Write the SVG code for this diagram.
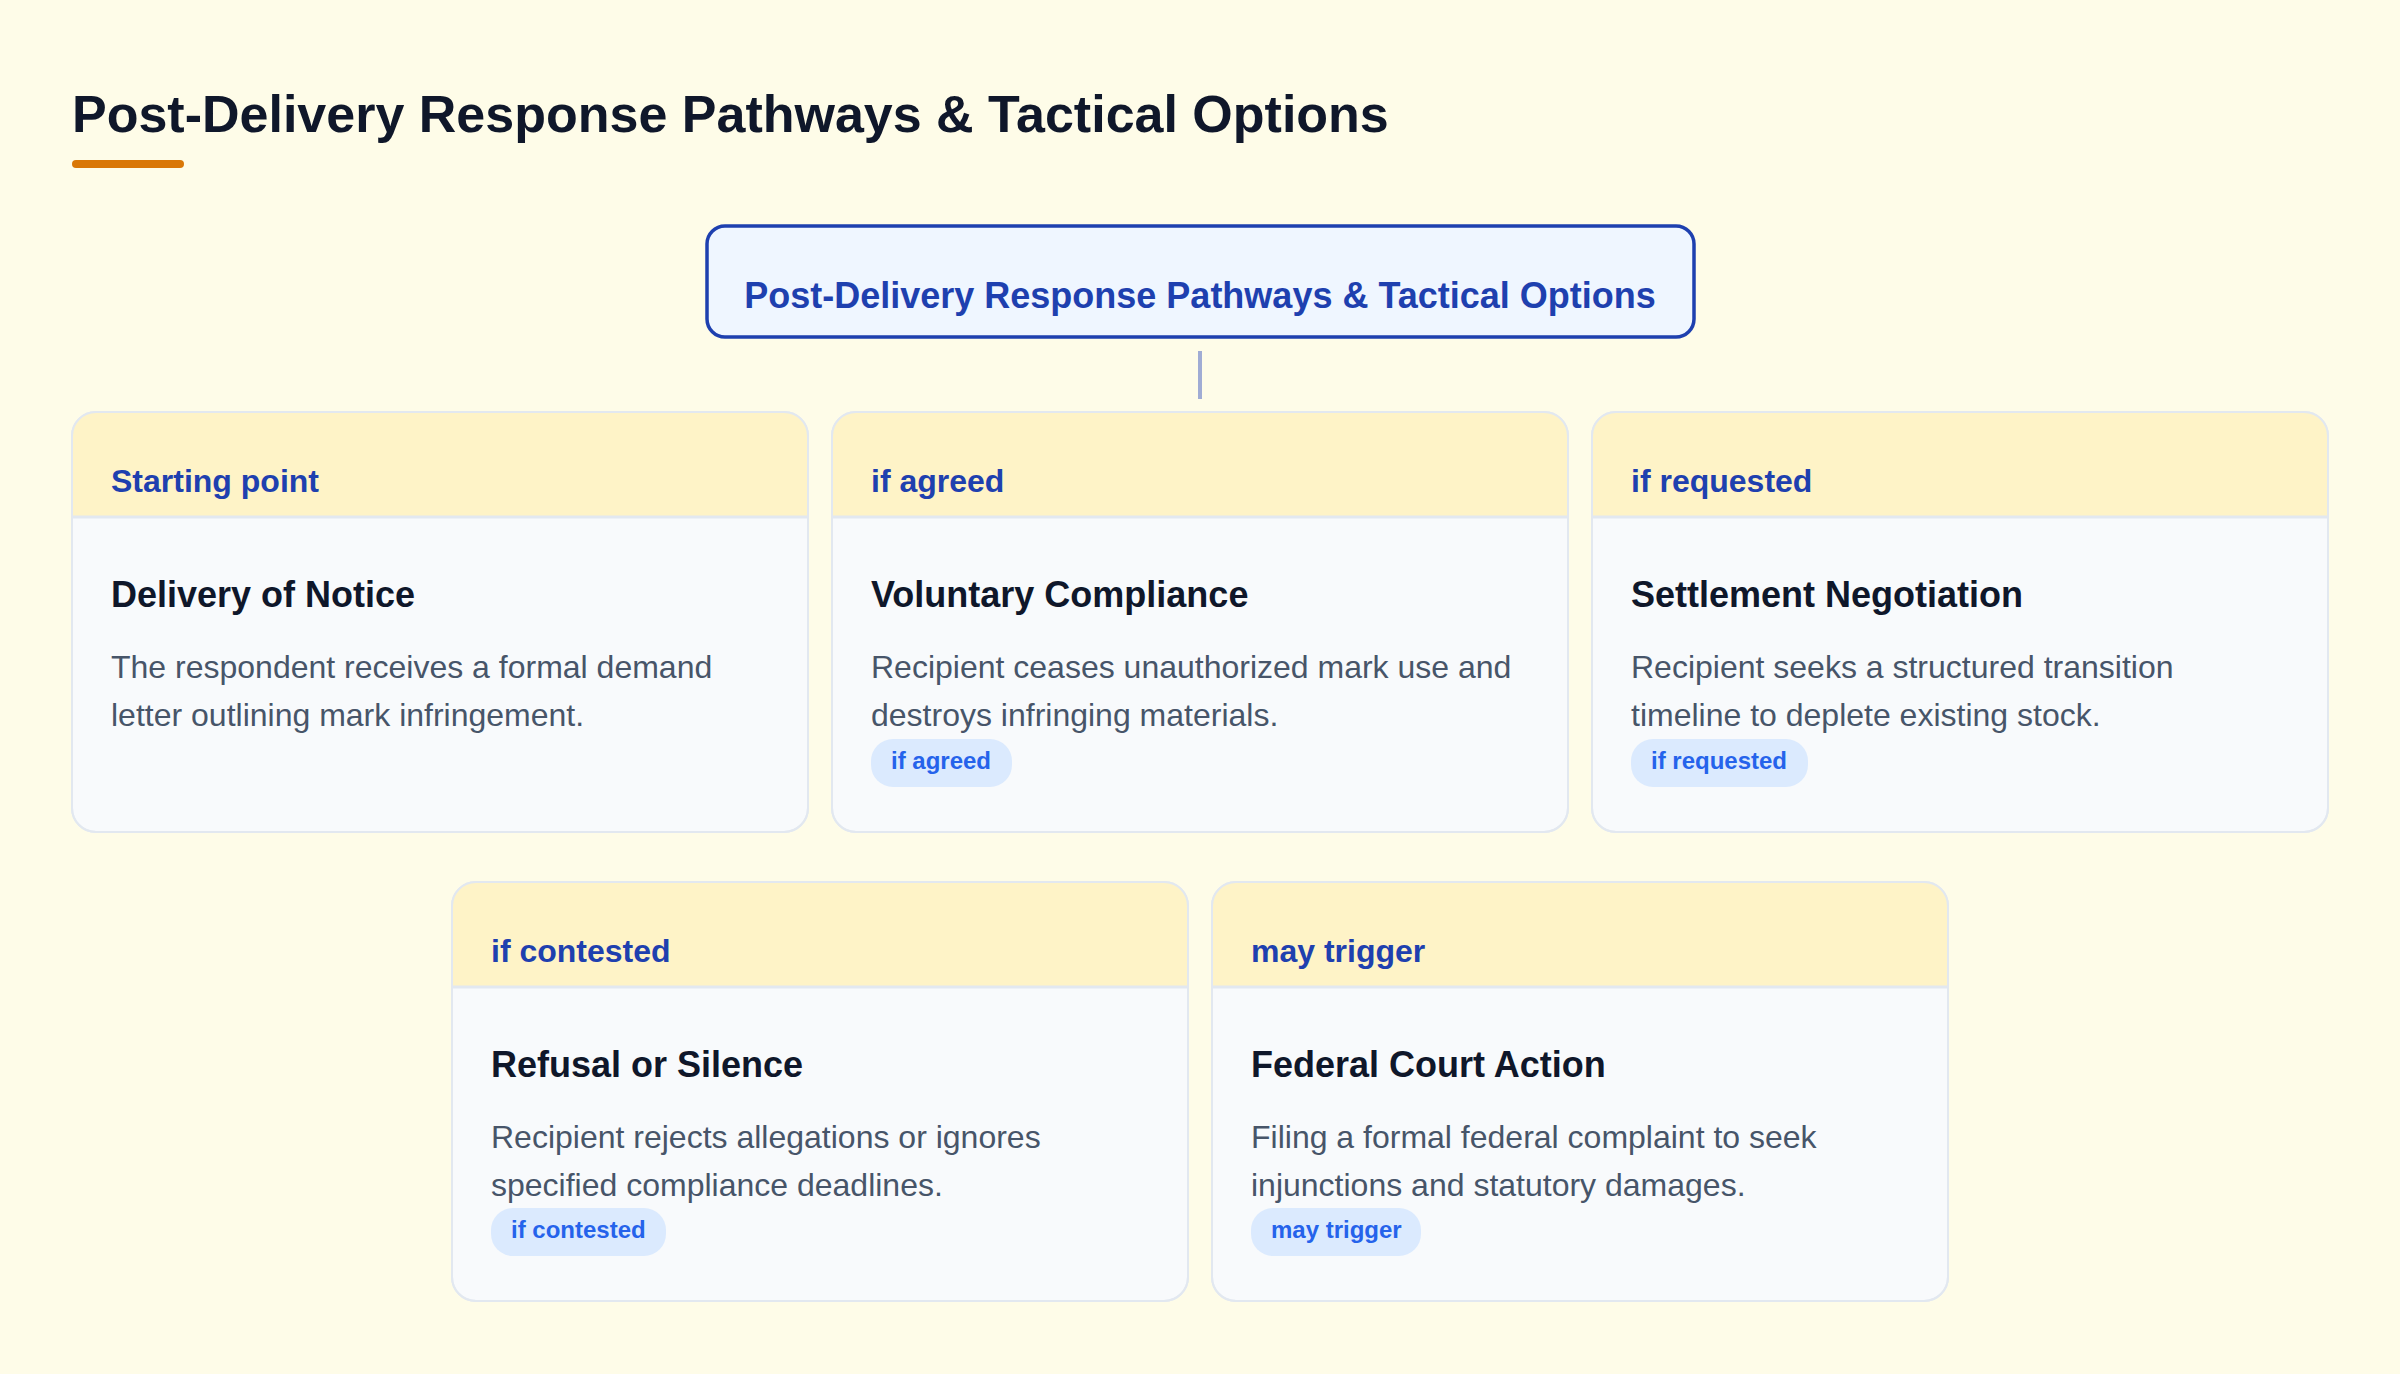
<svg xmlns="http://www.w3.org/2000/svg" width="2400" height="1374" viewBox="0 0 2400 1374">
<defs>
<style>
.bg{fill:#fefce8}
.h1{font-family:"Liberation Sans",Arial,sans-serif;font-weight:700;font-size:52px;fill:#0f172a}
.root{fill:#eff6ff;stroke:#1e40af;stroke-width:3.5}
.roottxt{font-family:"Liberation Sans",Arial,sans-serif;font-weight:700;font-size:36px;fill:#1e40af}
.card{fill:#f8fafc;stroke:#e2e8f0;stroke-width:2}
.cardb{fill:none;stroke:#e2e8f0;stroke-width:2}
.head{fill:#fef3c7}
.sep{stroke:#e2e8f0;stroke-width:3}
.htxt{font-family:"Liberation Sans",Arial,sans-serif;font-weight:700;font-size:32px;fill:#1e40af}
.ttl{font-family:"Liberation Sans",Arial,sans-serif;font-weight:700;font-size:36px;fill:#0f172a}
.desc{font-family:"Liberation Sans",Arial,sans-serif;font-size:32px;fill:#475569}
.badge{fill:#dbeafe}
.btxt{font-family:"Liberation Sans",Arial,sans-serif;font-weight:700;font-size:24px;fill:#2563eb}
.conn{stroke:#a0acd4;stroke-width:4;fill:none}
</style>
<path id="hdr" d="M0,105 V24 A24,24 0 0 1 24,0 H712 A24,24 0 0 1 736,24 V105 Z"/>
</defs>
<rect class="bg" x="0" y="0" width="2400" height="1374"/>
<text class="h1" x="72" y="132">Post-Delivery Response Pathways &amp; Tactical Options</text>
<rect x="72" y="160" width="112" height="8" rx="4" fill="#d97706"/>

<g id="connectors">
<line class="conn" x1="1200" y1="351" x2="1200" y2="399"/>
</g>

<g id="root">
<rect class="root" x="707" y="226" width="987" height="111" rx="18"/>
<text class="roottxt" x="1200" y="308" text-anchor="middle">Post-Delivery Response Pathways &amp; Tactical Options</text>
</g>

<g id="delivery" transform="translate(72,412)">
<rect class="card" x="0" y="0" width="736" height="420" rx="24"/>
<use href="#hdr" class="head"/>
<line class="sep" x1="1" y1="105" x2="735" y2="105"/>
<rect class="cardb" x="0" y="0" width="736" height="420" rx="24"/>
<text class="htxt" x="39" y="80">Starting point</text>
<text class="ttl" x="39" y="195">Delivery of Notice</text>
<text class="desc" x="39" y="266">The respondent receives a formal demand</text>
<text class="desc" x="39" y="314">letter outlining mark infringement.</text>
</g>

<g id="compliance" transform="translate(832,412)">
<rect class="card" x="0" y="0" width="736" height="420" rx="24"/>
<use href="#hdr" class="head"/>
<line class="sep" x1="1" y1="105" x2="735" y2="105"/>
<rect class="cardb" x="0" y="0" width="736" height="420" rx="24"/>
<text class="htxt" x="39" y="80">if agreed</text>
<text class="ttl" x="39" y="195">Voluntary Compliance</text>
<text class="desc" x="39" y="266">Recipient ceases unauthorized mark use and</text>
<text class="desc" x="39" y="314">destroys infringing materials.</text>
<rect class="badge" x="39" y="327" width="141" height="48" rx="22"/>
<text class="btxt" x="59" y="357">if agreed</text>
</g>

<g id="settlement" transform="translate(1592,412)">
<rect class="card" x="0" y="0" width="736" height="420" rx="24"/>
<use href="#hdr" class="head"/>
<line class="sep" x1="1" y1="105" x2="735" y2="105"/>
<rect class="cardb" x="0" y="0" width="736" height="420" rx="24"/>
<text class="htxt" x="39" y="80">if requested</text>
<text class="ttl" x="39" y="195">Settlement Negotiation</text>
<text class="desc" x="39" y="266">Recipient seeks a structured transition</text>
<text class="desc" x="39" y="314">timeline to deplete existing stock.</text>
<rect class="badge" x="39" y="327" width="177" height="48" rx="22"/>
<text class="btxt" x="59" y="357">if requested</text>
</g>

<g id="refusal" transform="translate(452,882)">
<rect class="card" x="0" y="0" width="736" height="419" rx="24"/>
<use href="#hdr" class="head"/>
<line class="sep" x1="1" y1="105" x2="735" y2="105"/>
<rect class="cardb" x="0" y="0" width="736" height="419" rx="24"/>
<text class="htxt" x="39" y="80">if contested</text>
<text class="ttl" x="39" y="195">Refusal or Silence</text>
<text class="desc" x="39" y="266">Recipient rejects allegations or ignores</text>
<text class="desc" x="39" y="314">specified compliance deadlines.</text>
<rect class="badge" x="39" y="326" width="175" height="48" rx="22"/>
<text class="btxt" x="59" y="356">if contested</text>
</g>

<g id="federal" transform="translate(1212,882)">
<rect class="card" x="0" y="0" width="736" height="419" rx="24"/>
<use href="#hdr" class="head"/>
<line class="sep" x1="1" y1="105" x2="735" y2="105"/>
<rect class="cardb" x="0" y="0" width="736" height="419" rx="24"/>
<text class="htxt" x="39" y="80">may trigger</text>
<text class="ttl" x="39" y="195">Federal Court Action</text>
<text class="desc" x="39" y="266">Filing a formal federal complaint to seek</text>
<text class="desc" x="39" y="314">injunctions and statutory damages.</text>
<rect class="badge" x="39" y="326" width="170" height="48" rx="22"/>
<text class="btxt" x="59" y="356">may trigger</text>
</g>
</svg>
